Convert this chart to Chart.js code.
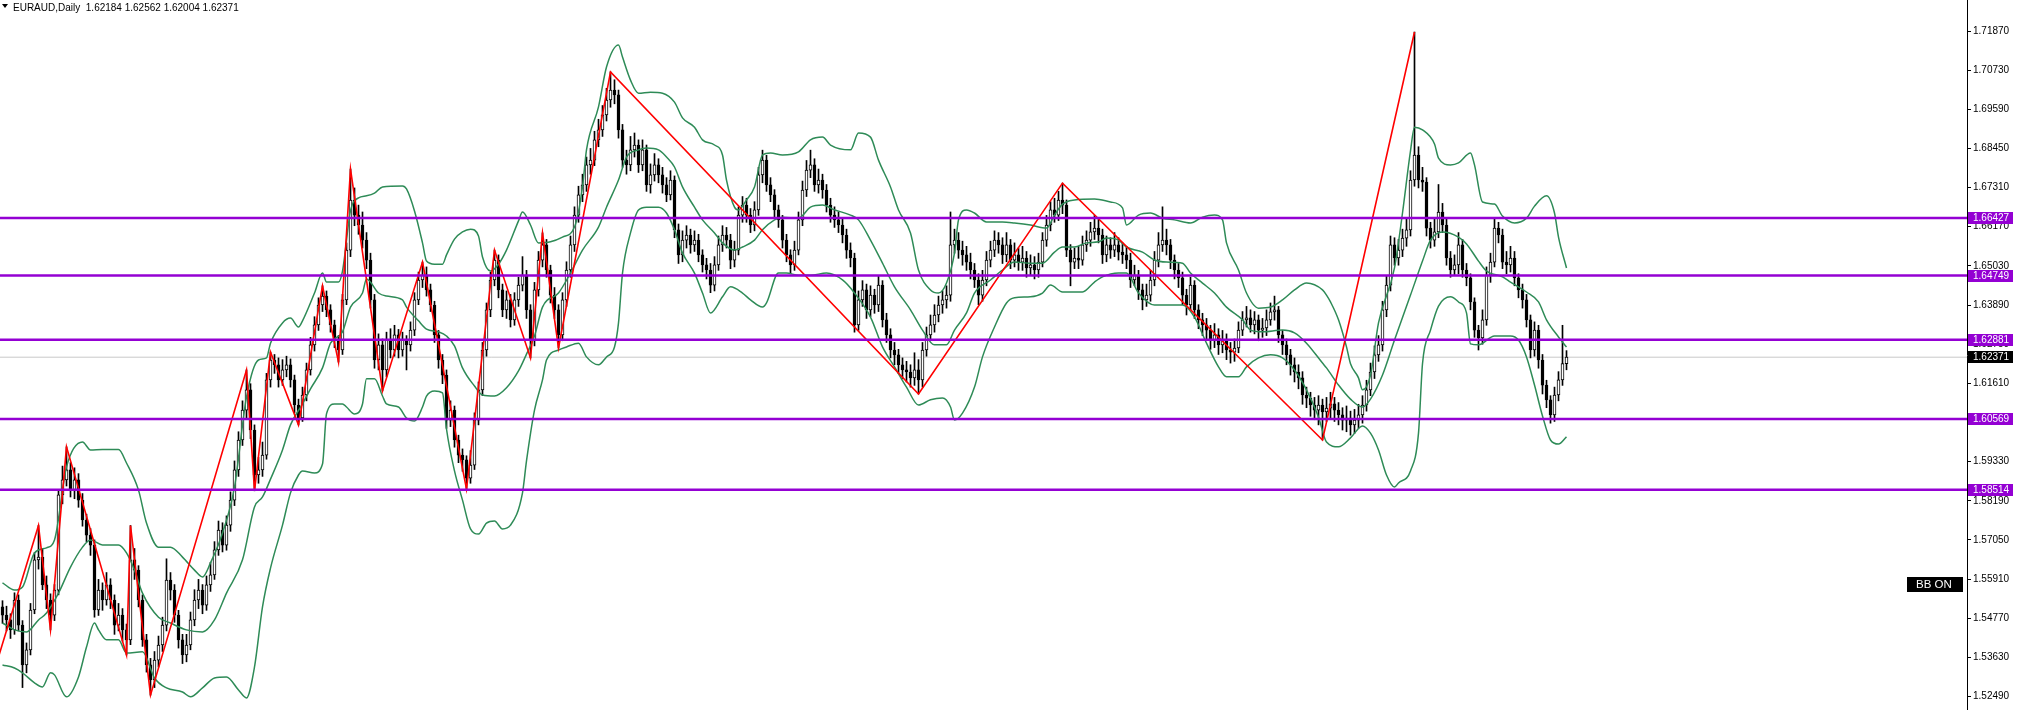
<!DOCTYPE html>
<html><head><meta charset="utf-8">
<script src="https://cdn.jsdelivr.net/npm/chart.js@4.4.1/dist/chart.umd.min.js"></script>
<style>html,body{margin:0;padding:0;background:#fff;}#wrap{width:2020px;height:710px;position:relative;}</style>
</head><body><div id="wrap"><canvas id="c" width="2020" height="710"></canvas></div>
<script>
const symbol = 'EURAUD';
const timeframe = 'Daily';

const opens = [
1.5510,1.5486,1.5472,1.5443,1.5530,1.5457,1.5341,1.5385,1.5501,1.5647,
1.5655,1.5574,1.5530,1.5486,1.5559,1.5836,1.5880,1.5909,1.5850,1.5880,
1.5821,1.5763,1.5719,1.5690,1.5501,1.5559,1.5530,1.5574,1.5530,1.5457,
1.5486,1.5443,1.5414,1.5647,1.5617,1.5530,1.5414,1.5341,1.5297,1.5355,
1.5399,1.5457,1.5588,1.5559,1.5486,1.5414,1.5370,1.5399,1.5472,1.5530,
1.5559,1.5515,1.5574,1.5603,1.5676,1.5734,1.5690,1.5748,1.5821,1.5909,
1.5996,1.6083,1.6142,1.6025,1.5894,1.5909,1.5952,1.6171,1.6229,1.6215,
1.6171,1.6200,1.6215,1.6171,1.6098,1.6060,1.6127,1.6200,1.6273,1.6331,
1.6389,1.6415,1.6375,1.6331,1.6287,1.6258,1.6404,1.6549,1.6695,1.6651,
1.6622,1.6578,1.6520,1.6404,1.6229,1.6273,1.6200,1.6287,1.6258,1.6302,
1.6258,1.6287,1.6273,1.6316,1.6404,1.6462,1.6476,1.6433,1.6389,1.6302,
1.6229,1.6185,1.6054,1.6083,1.5996,1.5952,1.5938,1.5885,1.5923,1.6054,
1.6142,1.6258,1.6375,1.6462,1.6520,1.6433,1.6375,1.6404,1.6346,1.6404,
1.6447,1.6476,1.6375,1.6287,1.6433,1.6520,1.6564,1.6491,1.6418,1.6375,
1.6302,1.6404,1.6491,1.6564,1.6651,1.6710,1.6739,1.6797,1.6811,1.6870,
1.6899,1.6943,1.6986,1.7015,1.7001,1.6899,1.6811,1.6797,1.6841,1.6855,
1.6797,1.6841,1.6739,1.6768,1.6797,1.6768,1.6739,1.6710,1.6753,1.6608,
1.6535,1.6578,1.6593,1.6564,1.6578,1.6535,1.6506,1.6491,1.6447,1.6506,
1.6564,1.6593,1.6578,1.6520,1.6549,1.6651,1.6680,1.6651,1.6622,1.6666,
1.6768,1.6811,1.6739,1.6710,1.6666,1.6637,1.6578,1.6535,1.6506,1.6549,
1.6637,1.6724,1.6782,1.6797,1.6739,1.6753,1.6724,1.6680,1.6651,1.6637,
1.6622,1.6593,1.6549,1.6526,1.6331,1.6404,1.6433,1.6375,1.6418,1.6389,
1.6447,1.6346,1.6302,1.6258,1.6244,1.6215,1.6200,1.6194,1.6177,1.6200,
1.6171,1.6258,1.6302,1.6331,1.6360,1.6389,1.6404,1.6418,1.6564,1.6578,
1.6549,1.6535,1.6514,1.6491,1.6462,1.6418,1.6462,1.6520,1.6549,1.6578,
1.6564,1.6535,1.6564,1.6520,1.6535,1.6514,1.6526,1.6497,1.6506,1.6491,
1.6514,1.6578,1.6622,1.6666,1.6651,1.6695,1.6680,1.6549,1.6514,1.6526,
1.6520,1.6564,1.6578,1.6602,1.6613,1.6593,1.6535,1.6564,1.6549,1.6564,
1.6543,1.6535,1.6520,1.6462,1.6476,1.6433,1.6404,1.6418,1.6462,1.6520,
1.6564,1.6578,1.6564,1.6520,1.6491,1.6468,1.6418,1.6389,1.6447,1.6375,
1.6346,1.6331,1.6316,1.6287,1.6302,1.6273,1.6287,1.6258,1.6252,1.6264,
1.6316,1.6346,1.6352,1.6331,1.6346,1.6316,1.6322,1.6346,1.6369,1.6375,
1.6302,1.6273,1.6244,1.6215,1.6194,1.6177,1.6127,1.6118,1.6098,1.6083,
1.6098,1.6078,1.6089,1.6101,1.6083,1.6069,1.6054,1.6060,1.6040,1.6054,
1.6069,1.6098,1.6142,1.6194,1.6244,1.6273,1.6375,1.6447,1.6564,1.6526,
1.6549,1.6584,1.6608,1.6753,1.6826,1.6753,1.6747,1.6613,1.6578,1.6602,
1.6660,1.6622,1.6526,1.6491,1.6506,1.6564,1.6491,1.6468,1.6398,1.6316,
1.6293,1.6346,1.6476,1.6514,1.6613,1.6593,1.6514,1.6506,1.6526,1.6468,
1.6433,1.6404,1.6346,1.6258,1.6316,1.6229,1.6156,1.6113,1.6069,1.6127,
1.6171,1.62184];

const highs = [
1.5528,1.5512,1.5490,1.5551,1.5545,1.5470,1.5405,1.5520,1.5668,1.5747,
1.5680,1.5600,1.5548,1.5575,1.5850,1.5920,1.5976,1.5930,1.5915,1.5898,
1.5840,1.5780,1.5738,1.5705,1.5590,1.5580,1.5610,1.5592,1.5545,1.5520,
1.5505,1.5460,1.5747,1.5680,1.5630,1.5545,1.5430,1.5360,1.5380,1.5425,
1.5480,1.5650,1.5610,1.5575,1.5500,1.5430,1.5430,1.5495,1.5560,1.5590,
1.5575,1.5600,1.5640,1.5700,1.5760,1.5755,1.5775,1.5845,1.5935,1.6020,
1.6110,1.6200,1.6160,1.6040,1.5945,1.5990,1.6190,1.6252,1.6245,1.6235,
1.6230,1.6240,1.6232,1.6185,1.6115,1.6150,1.6220,1.6295,1.6355,1.6410,
1.6445,1.6430,1.6390,1.6345,1.6300,1.6420,1.6570,1.6785,1.6730,1.6680,
1.6660,1.6600,1.6540,1.6420,1.6305,1.6290,1.6310,1.6320,1.6330,1.6318,
1.6310,1.6300,1.6340,1.6425,1.6485,1.6514,1.6500,1.6450,1.6400,1.6315,
1.6245,1.6200,1.6110,1.6095,1.6010,1.5970,1.5950,1.5965,1.6075,1.6165,
1.6280,1.6395,1.6485,1.6549,1.6535,1.6450,1.6430,1.6420,1.6425,1.6470,
1.6530,1.6490,1.6390,1.6455,1.6545,1.6599,1.6580,1.6505,1.6440,1.6390,
1.6425,1.6515,1.6590,1.6675,1.6735,1.6770,1.6820,1.6845,1.6895,1.6930,
1.6970,1.7020,1.7068,1.7045,1.7015,1.6915,1.6840,1.6880,1.6890,1.6870,
1.6870,1.6855,1.6800,1.6830,1.6815,1.6790,1.6760,1.6780,1.6765,1.6625,
1.6605,1.6620,1.6610,1.6605,1.6595,1.6550,1.6525,1.6510,1.6530,1.6590,
1.6620,1.6615,1.6595,1.6575,1.6675,1.6705,1.6700,1.6670,1.6690,1.6790,
1.6840,1.6825,1.6760,1.6725,1.6680,1.6650,1.6595,1.6550,1.6575,1.6660,
1.6750,1.6810,1.6840,1.6815,1.6785,1.6770,1.6740,1.6700,1.6675,1.6660,
1.6640,1.6610,1.6570,1.6540,1.6430,1.6460,1.6450,1.6445,1.6435,1.6475,
1.6460,1.6365,1.6320,1.6280,1.6260,1.6235,1.6225,1.6215,1.6250,1.6230,
1.6280,1.6325,1.6360,1.6390,1.6415,1.6430,1.6445,1.6660,1.6610,1.6600,
1.6575,1.6560,1.6540,1.6510,1.6480,1.6490,1.6545,1.6575,1.6605,1.6600,
1.6585,1.6600,1.6580,1.6570,1.6555,1.6560,1.6545,1.6535,1.6530,1.6540,
1.6600,1.6650,1.6690,1.6700,1.6720,1.6744,1.6695,1.6565,1.6555,1.6560,
1.6590,1.6605,1.6630,1.6650,1.6640,1.6610,1.6590,1.6585,1.6600,1.6585,
1.6570,1.6560,1.6540,1.6505,1.6490,1.6450,1.6450,1.6490,1.6545,1.6600,
1.6675,1.6610,1.6580,1.6535,1.6510,1.6485,1.6435,1.6470,1.6460,1.6390,
1.6365,1.6350,1.6330,1.6335,1.6320,1.6315,1.6305,1.6280,1.6290,1.6340,
1.6370,1.6385,1.6375,1.6370,1.6360,1.6350,1.6375,1.6395,1.6415,1.6385,
1.6315,1.6290,1.6260,1.6235,1.6215,1.6195,1.6150,1.6135,1.6120,1.6125,
1.6115,1.6120,1.6135,1.6120,1.6105,1.6090,1.6095,1.6080,1.6085,1.6100,
1.6125,1.6170,1.6220,1.6270,1.6300,1.6400,1.6475,1.6590,1.6585,1.6580,
1.6610,1.6640,1.6780,1.7184,1.6850,1.6790,1.6760,1.6630,1.6640,1.6740,
1.6685,1.6640,1.6545,1.6535,1.6600,1.6580,1.6510,1.6480,1.6410,1.6330,
1.6375,1.6500,1.6540,1.6640,1.6630,1.6610,1.6545,1.6560,1.6545,1.6480,
1.6450,1.6420,1.6360,1.6340,1.6330,1.6245,1.6170,1.6125,1.6150,1.6195,
1.6330,1.62562];

const lows = [
1.5462,1.5440,1.5418,1.5430,1.5440,1.5275,1.5318,1.5370,1.5490,1.5620,
1.5560,1.5505,1.5443,1.5470,1.5545,1.5810,1.5862,1.5830,1.5825,1.5800,
1.5745,1.5700,1.5660,1.5480,1.5485,1.5500,1.5515,1.5505,1.5430,1.5440,
1.5410,1.5370,1.5400,1.5590,1.5510,1.5395,1.5320,1.5253,1.5275,1.5335,
1.5380,1.5440,1.5530,1.5465,1.5390,1.5345,1.5350,1.5385,1.5455,1.5505,
1.5490,1.5500,1.5555,1.5590,1.5660,1.5670,1.5675,1.5730,1.5805,1.5890,
1.5980,1.6060,1.6000,1.5848,1.5870,1.5890,1.5940,1.6150,1.6190,1.6150,
1.6155,1.6180,1.6150,1.6075,1.6040,1.6050,1.6110,1.6185,1.6255,1.6315,
1.6370,1.6355,1.6310,1.6265,1.6223,1.6245,1.6390,1.6530,1.6620,1.6595,
1.6555,1.6495,1.6380,1.6205,1.6200,1.6139,1.6180,1.6235,1.6240,1.6235,
1.6240,1.6200,1.6255,1.6300,1.6390,1.6440,1.6415,1.6370,1.6280,1.6205,
1.6160,1.6030,1.6035,1.5975,1.5930,1.5905,1.5853,1.5870,1.5910,1.6040,
1.6125,1.6240,1.6355,1.6445,1.6410,1.6355,1.6350,1.6325,1.6330,1.6385,
1.6430,1.6350,1.6235,1.6270,1.6415,1.6500,1.6470,1.6395,1.6350,1.6264,
1.6285,1.6385,1.6470,1.6545,1.6630,1.6690,1.6720,1.6770,1.6795,1.6850,
1.6880,1.6925,1.6965,1.6975,1.6875,1.6790,1.6770,1.6780,1.6820,1.6775,
1.6780,1.6720,1.6715,1.6750,1.6745,1.6715,1.6690,1.6695,1.6585,1.6510,
1.6515,1.6555,1.6540,1.6545,1.6515,1.6485,1.6465,1.6425,1.6430,1.6490,
1.6545,1.6555,1.6495,1.6500,1.6535,1.6630,1.6630,1.6600,1.6605,1.6650,
1.6745,1.6720,1.6690,1.6645,1.6615,1.6555,1.6515,1.6480,1.6490,1.6535,
1.6620,1.6705,1.6760,1.6720,1.6715,1.6700,1.6660,1.6630,1.6615,1.6600,
1.6570,1.6525,1.6500,1.6310,1.6315,1.6385,1.6350,1.6355,1.6365,1.6370,
1.6325,1.6280,1.6235,1.6215,1.6190,1.6175,1.6165,1.6150,1.6155,1.6130,
1.6150,1.6240,1.6285,1.6310,1.6340,1.6365,1.6380,1.6400,1.6540,1.6525,
1.6505,1.6490,1.6465,1.6440,1.6390,1.6400,1.6445,1.6500,1.6530,1.6540,
1.6510,1.6515,1.6495,1.6500,1.6490,1.6490,1.6470,1.6475,1.6465,1.6470,
1.6500,1.6560,1.6605,1.6630,1.6635,1.6655,1.6530,1.6445,1.6495,1.6495,
1.6505,1.6545,1.6560,1.6580,1.6570,1.6510,1.6515,1.6525,1.6530,1.6520,
1.6510,1.6495,1.6440,1.6445,1.6405,1.6375,1.6385,1.6400,1.6445,1.6500,
1.6545,1.6535,1.6495,1.6465,1.6440,1.6390,1.6360,1.6375,1.6350,1.6320,
1.6300,1.6290,1.6260,1.6265,1.6245,1.6250,1.6230,1.6220,1.6225,1.6250,
1.6300,1.6325,1.6310,1.6305,1.6285,1.6295,1.6300,1.6330,1.6345,1.6280,
1.6245,1.6215,1.6185,1.6165,1.6145,1.6100,1.6090,1.6065,1.6055,1.6040,
1.5996,1.6050,1.6060,1.6050,1.6040,1.6025,1.6020,1.6010,1.6015,1.6030,
1.6045,1.6080,1.6125,1.6175,1.6225,1.6255,1.6355,1.6430,1.6505,1.6505,
1.6530,1.6560,1.6590,1.6735,1.6730,1.6720,1.6590,1.6555,1.6560,1.6585,
1.6600,1.6505,1.6470,1.6475,1.6480,1.6470,1.6445,1.6375,1.6295,1.6258,
1.6275,1.6330,1.6455,1.6500,1.6570,1.6495,1.6480,1.6485,1.6445,1.6410,
1.6380,1.6325,1.6235,1.6240,1.6205,1.6130,1.6090,1.6045,1.6050,1.6110,
1.6155,1.62004];

const closes = [
1.5486,1.5472,1.5443,1.5530,1.5457,1.5341,1.5385,1.5501,1.5647,1.5655,
1.5574,1.5530,1.5486,1.5559,1.5836,1.5880,1.5909,1.5850,1.5880,1.5821,
1.5763,1.5719,1.5690,1.5501,1.5559,1.5530,1.5574,1.5530,1.5457,1.5486,
1.5443,1.5414,1.5647,1.5617,1.5530,1.5414,1.5341,1.5297,1.5355,1.5399,
1.5457,1.5588,1.5559,1.5486,1.5414,1.5370,1.5399,1.5472,1.5530,1.5559,
1.5515,1.5574,1.5603,1.5676,1.5734,1.5690,1.5748,1.5821,1.5909,1.5996,
1.6083,1.6142,1.6025,1.5894,1.5909,1.5952,1.6171,1.6229,1.6215,1.6171,
1.6200,1.6215,1.6171,1.6098,1.6060,1.6127,1.6200,1.6273,1.6331,1.6389,
1.6415,1.6375,1.6331,1.6287,1.6258,1.6404,1.6549,1.6695,1.6651,1.6622,
1.6578,1.6520,1.6404,1.6229,1.6273,1.6200,1.6287,1.6258,1.6302,1.6258,
1.6287,1.6273,1.6316,1.6404,1.6462,1.6476,1.6433,1.6389,1.6302,1.6229,
1.6185,1.6054,1.6083,1.5996,1.5952,1.5938,1.5885,1.5923,1.6054,1.6142,
1.6258,1.6375,1.6462,1.6520,1.6433,1.6375,1.6404,1.6346,1.6404,1.6447,
1.6476,1.6375,1.6287,1.6433,1.6520,1.6564,1.6491,1.6418,1.6375,1.6302,
1.6404,1.6491,1.6564,1.6651,1.6710,1.6739,1.6797,1.6811,1.6870,1.6899,
1.6943,1.6986,1.7015,1.7001,1.6899,1.6811,1.6797,1.6841,1.6855,1.6797,
1.6841,1.6739,1.6768,1.6797,1.6768,1.6739,1.6710,1.6753,1.6608,1.6535,
1.6578,1.6593,1.6564,1.6578,1.6535,1.6506,1.6491,1.6447,1.6506,1.6564,
1.6593,1.6578,1.6520,1.6549,1.6651,1.6680,1.6651,1.6622,1.6666,1.6768,
1.6811,1.6739,1.6710,1.6666,1.6637,1.6578,1.6535,1.6506,1.6549,1.6637,
1.6724,1.6782,1.6797,1.6739,1.6753,1.6724,1.6680,1.6651,1.6637,1.6622,
1.6593,1.6549,1.6526,1.6331,1.6404,1.6433,1.6375,1.6418,1.6389,1.6447,
1.6346,1.6302,1.6258,1.6244,1.6215,1.6200,1.6194,1.6177,1.6200,1.6171,
1.6258,1.6302,1.6331,1.6360,1.6389,1.6404,1.6418,1.6564,1.6578,1.6549,
1.6535,1.6514,1.6491,1.6462,1.6418,1.6462,1.6520,1.6549,1.6578,1.6564,
1.6535,1.6564,1.6520,1.6535,1.6514,1.6526,1.6497,1.6506,1.6491,1.6514,
1.6578,1.6622,1.6666,1.6651,1.6695,1.6680,1.6549,1.6514,1.6526,1.6520,
1.6564,1.6578,1.6602,1.6613,1.6593,1.6535,1.6564,1.6549,1.6564,1.6543,
1.6535,1.6520,1.6462,1.6476,1.6433,1.6404,1.6418,1.6462,1.6520,1.6564,
1.6578,1.6564,1.6520,1.6491,1.6468,1.6418,1.6389,1.6447,1.6375,1.6346,
1.6331,1.6316,1.6287,1.6302,1.6273,1.6287,1.6258,1.6252,1.6264,1.6316,
1.6346,1.6352,1.6331,1.6346,1.6316,1.6322,1.6346,1.6369,1.6375,1.6302,
1.6273,1.6244,1.6215,1.6194,1.6177,1.6127,1.6118,1.6098,1.6083,1.6098,
1.6078,1.6089,1.6101,1.6083,1.6069,1.6054,1.6060,1.6040,1.6054,1.6069,
1.6098,1.6142,1.6194,1.6244,1.6273,1.6375,1.6447,1.6564,1.6526,1.6549,
1.6584,1.6608,1.6753,1.6826,1.6753,1.6747,1.6613,1.6578,1.6602,1.6660,
1.6622,1.6526,1.6491,1.6506,1.6564,1.6491,1.6468,1.6398,1.6316,1.6293,
1.6346,1.6476,1.6514,1.6613,1.6593,1.6514,1.6506,1.6526,1.6468,1.6433,
1.6404,1.6346,1.6258,1.6316,1.6229,1.6156,1.6113,1.6069,1.6127,1.6171,
1.62184,1.62371];

// ZigZag turning points (bar index, price)
const zigIdx   = [-2,9,12,16,31,32,37,61,63,67,74,80,84,87,95,105,116,123,132,135,139,152,229,265,330,353];
const zigPrice = [1.5326,1.5747,1.5443,1.5976,1.5370,1.5747,1.5253,1.6200,1.5848,1.6252,1.6040,1.6445,1.6223,1.6785,1.6139,1.6514,1.5853,1.6549,1.6235,1.6599,1.6264,1.7068,1.6130,1.6744,1.5996,1.7184];

// Bollinger bands (bar index, price)
const bbUpIdx = [0,3,5,8,11,13,16,20,22,25,29,31,34,36,39,42,45,48,50,52,55,58,61,64,66,67,70,72,74,75,78,80,81,84,85,87,89,91,93,95,100,101,103,105,106,108,110,111,113,115,117,119,120,122,124,126,129,130,132,134,137,140,143,145,146,149,151,154,155,157,159,162,165,168,170,173,175,178,180,181,183,184,186,188,190,192,195,199,202,205,207,212,214,217,219,222,224,227,229,232,234,236,238,239,241,243,246,250,253,257,261,263,265,268,273,277,280,281,284,287,290,293,297,300,303,305,306,309,311,314,317,320,323,326,330,331,332,334,336,337,339,340,342,344,348,350,352,353,355,358,359,362,364,367,368,370,373,375,378,381,383,386,388,389,391];
const bbUp = [1.5580,1.5559,1.5568,1.5667,1.5682,1.5705,1.5917,1.5990,1.5967,1.5968,1.5968,1.5929,1.5850,1.5754,1.5684,1.5684,1.5655,1.5617,1.5597,1.5638,1.5725,1.5859,1.6121,1.6229,1.6235,1.6278,1.6337,1.6351,1.6325,1.6343,1.6424,1.6482,1.6456,1.6456,1.6488,1.6663,1.6701,1.6707,1.6715,1.6733,1.6736,1.6727,1.6663,1.6570,1.6517,1.6508,1.6508,1.6535,1.6581,1.6602,1.6610,1.6590,1.6529,1.6488,1.6508,1.6549,1.6634,1.6660,1.6622,1.6570,1.6573,1.6587,1.6616,1.6733,1.6841,1.6966,1.7082,1.7146,1.7111,1.7044,1.7006,1.7009,1.7006,1.6980,1.6934,1.6907,1.6870,1.6855,1.6826,1.6753,1.6674,1.6666,1.6695,1.6733,1.6826,1.6832,1.6826,1.6835,1.6870,1.6878,1.6855,1.6841,1.6890,1.6878,1.6811,1.6733,1.6666,1.6599,1.6491,1.6433,1.6424,1.6453,1.6541,1.6637,1.6666,1.6657,1.6631,1.6631,1.6628,1.6622,1.6613,1.6651,1.6683,1.6695,1.6698,1.6689,1.6672,1.6622,1.6651,1.6657,1.6642,1.6637,1.6628,1.6645,1.6651,1.6637,1.6570,1.6491,1.6424,1.6380,1.6383,1.6404,1.6433,1.6453,1.6433,1.6418,1.6398,1.6346,1.6267,1.6218,1.6177,1.6142,1.6185,1.6337,1.6497,1.6657,1.6838,1.6907,1.6899,1.6858,1.6817,1.6797,1.6803,1.6832,1.6797,1.6689,1.6683,1.6648,1.6628,1.6642,1.6677,1.6707,1.6657,1.6587,1.6497];

const bbMidIdx = [0,3,6,9,11,14,17,20,22,25,29,31,33,35,39,42,46,50,53,56,60,63,65,67,70,72,75,77,80,82,85,87,90,91,94,96,100,101,104,106,109,111,113,115,118,120,123,126,129,131,133,135,139,142,145,149,151,154,156,159,161,164,166,168,170,173,175,178,180,183,185,188,190,193,195,199,202,205,208,212,214,217,220,223,227,230,233,236,238,241,243,247,250,253,257,260,263,265,268,271,274,276,279,281,285,288,291,295,297,300,303,306,310,312,315,320,323,326,330,331,334,337,340,342,345,348,352,355,357,360,364,366,369,371,375,377,381,384,386,389,391];
const bbMid = [1.5463,1.5443,1.5437,1.5472,1.5492,1.5550,1.5626,1.5684,1.5705,1.5690,1.5690,1.5667,1.5617,1.5550,1.5480,1.5463,1.5443,1.5437,1.5472,1.5550,1.5647,1.5801,1.5830,1.5882,1.5967,1.6040,1.6101,1.6145,1.6206,1.6278,1.6311,1.6383,1.6424,1.6465,1.6424,1.6415,1.6404,1.6383,1.6343,1.6319,1.6311,1.6299,1.6270,1.6206,1.6153,1.6127,1.6124,1.6148,1.6197,1.6246,1.6299,1.6383,1.6424,1.6482,1.6549,1.6616,1.6674,1.6753,1.6820,1.6841,1.6846,1.6841,1.6820,1.6791,1.6733,1.6674,1.6637,1.6599,1.6570,1.6549,1.6558,1.6578,1.6608,1.6637,1.6645,1.6642,1.6674,1.6680,1.6666,1.6651,1.6637,1.6578,1.6511,1.6442,1.6375,1.6316,1.6273,1.6273,1.6316,1.6366,1.6424,1.6462,1.6491,1.6514,1.6511,1.6511,1.6543,1.6558,1.6558,1.6570,1.6573,1.6584,1.6578,1.6558,1.6543,1.6520,1.6514,1.6511,1.6482,1.6453,1.6424,1.6383,1.6346,1.6316,1.6311,1.6316,1.6308,1.6278,1.6220,1.6206,1.6156,1.6115,1.6092,1.6115,1.6185,1.6287,1.6418,1.6517,1.6578,1.6602,1.6587,1.6567,1.6517,1.6488,1.6471,1.6456,1.6427,1.6398,1.6346,1.6296,1.6267];

const bbLowIdx = [0,3,5,8,10,12,13,16,19,21,23,24,26,29,31,35,38,41,45,47,50,53,56,59,61,63,65,67,70,72,74,75,78,80,81,83,85,86,88,90,91,93,95,96,99,101,103,105,106,108,110,111,113,115,117,119,121,123,125,127,130,131,133,135,136,139,141,144,146,149,151,153,154,155,157,159,161,164,166,168,170,173,175,177,180,182,185,187,190,191,194,196,199,202,206,210,213,217,220,223,226,229,232,235,237,238,240,243,245,248,251,253,257,260,262,265,270,273,275,279,281,284,288,292,295,298,301,304,306,309,311,314,317,320,323,326,329,331,334,337,340,342,344,346,348,349,352,354,355,357,359,362,364,366,367,369,373,377,379,381,383,385,387,389,391];
const bbLow = [1.5341,1.5332,1.5318,1.5289,1.5277,1.5318,1.5312,1.5248,1.5306,1.5393,1.5463,1.5443,1.5414,1.5414,1.5376,1.5379,1.5303,1.5274,1.5262,1.5248,1.5274,1.5303,1.5306,1.5268,1.5245,1.5335,1.5510,1.5623,1.5748,1.5842,1.5894,1.5906,1.5900,1.5926,1.6072,1.6101,1.6101,1.6092,1.6072,1.6101,1.6174,1.6174,1.6124,1.6101,1.6092,1.6060,1.6051,1.6092,1.6124,1.6139,1.6133,1.6028,1.5906,1.5821,1.5737,1.5722,1.5754,1.5760,1.5737,1.5748,1.5842,1.5935,1.6083,1.6171,1.6229,1.6258,1.6267,1.6278,1.6238,1.6215,1.6238,1.6267,1.6337,1.6482,1.6599,1.6666,1.6674,1.6674,1.6657,1.6608,1.6541,1.6482,1.6424,1.6366,1.6413,1.6442,1.6424,1.6404,1.6383,1.6395,1.6482,1.6482,1.6476,1.6476,1.6482,1.6462,1.6424,1.6354,1.6267,1.6209,1.6150,1.6098,1.6113,1.6118,1.6092,1.6054,1.6074,1.6150,1.6238,1.6325,1.6395,1.6410,1.6413,1.6424,1.6447,1.6427,1.6427,1.6456,1.6471,1.6482,1.6482,1.6424,1.6389,1.6389,1.6389,1.6354,1.6278,1.6209,1.6180,1.6180,1.6209,1.6235,1.6244,1.6235,1.6200,1.6142,1.6063,1.5990,1.5976,1.6002,1.6037,1.6016,1.5967,1.5894,1.5859,1.5871,1.5906,1.6016,1.6218,1.6316,1.6386,1.6413,1.6398,1.6366,1.6276,1.6273,1.6299,1.6299,1.6287,1.6238,1.6156,1.6066,1.5996,1.5984,1.6005];

// horizontal levels and current price
const levels = [1.66427,1.64749,1.62881,1.60569,1.58514];
const lastPrice = 1.62371;
const yTicks = [1.71870,1.70730,1.69590,1.68450,1.67310,1.66170,1.65030,1.63890,1.62750,1.61610,1.60470,1.59330,1.58190,1.57050,1.55910,1.54770,1.53630,1.52490];

const X_MIN = -0.625, X_MAX = 491.125;
const N = closes.length;
const idx = closes.map((_, i) => i);
const wickData = idx.map(i => ({x: i, y: [lows[i], highs[i]]}));
const bodyData = idx.map(i => ({x: i, y: [opens[i], closes[i]]}));
const bodyFill = idx.map(i => closes[i] >= opens[i] ? '#ffffff' : '#000000');
const pts = (xs, ys) => xs.map((x, k) => ({x: x, y: ys[k]}));
const hline = v => [{x: X_MIN, y: v}, {x: X_MAX, y: v}];

const FONT = '"Liberation Sans", Arial, sans-serif';

const datasets = [
  {type:'line', data: hline(lastPrice), borderColor:'#c8c8c8', borderWidth:1, pointRadius:0, order:30},
  {type:'bar', data: wickData, backgroundColor:'#000000', borderWidth:0, barThickness:1, grouped:false, order:21},
  {type:'bar', data: bodyData, backgroundColor: bodyFill, borderColor:'#000000', borderWidth:1, borderSkipped:false, barThickness:3, grouped:false, order:20},
  {type:'line', data: pts(bbUpIdx, bbUp), borderColor:'#2E8B57', borderWidth:1.5, pointRadius:0, cubicInterpolationMode:'monotone', order:6},
  {type:'line', data: pts(bbMidIdx, bbMid), borderColor:'#2E8B57', borderWidth:1.5, pointRadius:0, cubicInterpolationMode:'monotone', order:6},
  {type:'line', data: pts(bbLowIdx, bbLow), borderColor:'#2E8B57', borderWidth:1.5, pointRadius:0, cubicInterpolationMode:'monotone', order:6},
  {type:'line', data: pts(zigIdx, zigPrice), borderColor:'#ff0000', borderWidth:1.6, pointRadius:0, tension:0, order:5}
];
levels.forEach(v => datasets.push({type:'line', data: hline(v), borderColor:'#9400D3', borderWidth:2.5, pointRadius:0, order:2}));

const overlay = {
  id: 'overlay',
  afterDraw(chart) {
    const ctx = chart.ctx, ys = chart.scales.y, ca = chart.chartArea;
    ctx.save();
    ctx.font = '10px ' + FONT;
    ctx.textAlign = 'left';
    ctx.textBaseline = 'middle';
    const boxX = ca.right + 1;
    levels.forEach(v => {
      const py = Math.round(ys.getPixelForValue(v));
      ctx.fillStyle = '#9400D3';
      ctx.fillRect(boxX, py - 6, 45, 12);
      ctx.fillStyle = '#ffffff';
      ctx.fillText(v.toFixed(5), boxX + 5, py + 0.5);
    });
    const lp = Math.round(ys.getPixelForValue(lastPrice));
    ctx.fillStyle = '#000000';
    ctx.fillRect(boxX, lp - 6, 45, 12);
    ctx.fillStyle = '#ffffff';
    ctx.fillText(lastPrice.toFixed(5), boxX + 5, lp + 0.5);

    // title
    ctx.fillStyle = '#000000';
    ctx.beginPath(); ctx.moveTo(2, 4); ctx.lineTo(8, 4); ctx.lineTo(5, 8); ctx.closePath(); ctx.fill();
    ctx.textBaseline = 'alphabetic';
    const last = N - 1;
    const t = symbol + ',' + timeframe + '  ' + [opens[last], highs[last], lows[last], closes[last]].map(v => v.toFixed(5)).join(' ');
    ctx.fillText(t, 13, 11);

    // BB ON label
    ctx.fillStyle = '#000000';
    ctx.fillRect(1907, 577, 56, 15);
    ctx.fillStyle = '#ffffff';
    ctx.font = '11.5px ' + FONT;
    ctx.textBaseline = 'middle';
    ctx.fillText('BB ON', 1916, 585);
    ctx.restore();
  }
};

new Chart(document.getElementById('c'), {
  type: 'bar',
  data: { datasets },
  options: {
    responsive: false,
    devicePixelRatio: 1,
    animation: false,
    layout: { padding: 0 },
    plugins: { legend: {display:false}, tooltip: {enabled:false}, title: {display:false} },
    scales: {
      x: { type:'linear', min:X_MIN, max:X_MAX, display:false, offset:false, grid:{offset:false} },
      y: {
        position:'right', min:1.52097, max:1.72773,
        afterBuildTicks: s => { s.ticks = yTicks.map(v => ({value: v})); },
        afterFit: s => { s.width = 53; s.paddingTop = 0; s.paddingBottom = 0; },
        ticks: { autoSkip:false, padding:2, color:'#000', font:{family:FONT, size:10}, callback: v => Number(v).toFixed(5) },
        grid: { drawOnChartArea:false, drawTicks:true, tickLength:4, color:'#000' },
        border: { display:true, color:'#000', width:1 }
      }
    }
  },
  plugins: [overlay]
});
</script>
</body></html>
